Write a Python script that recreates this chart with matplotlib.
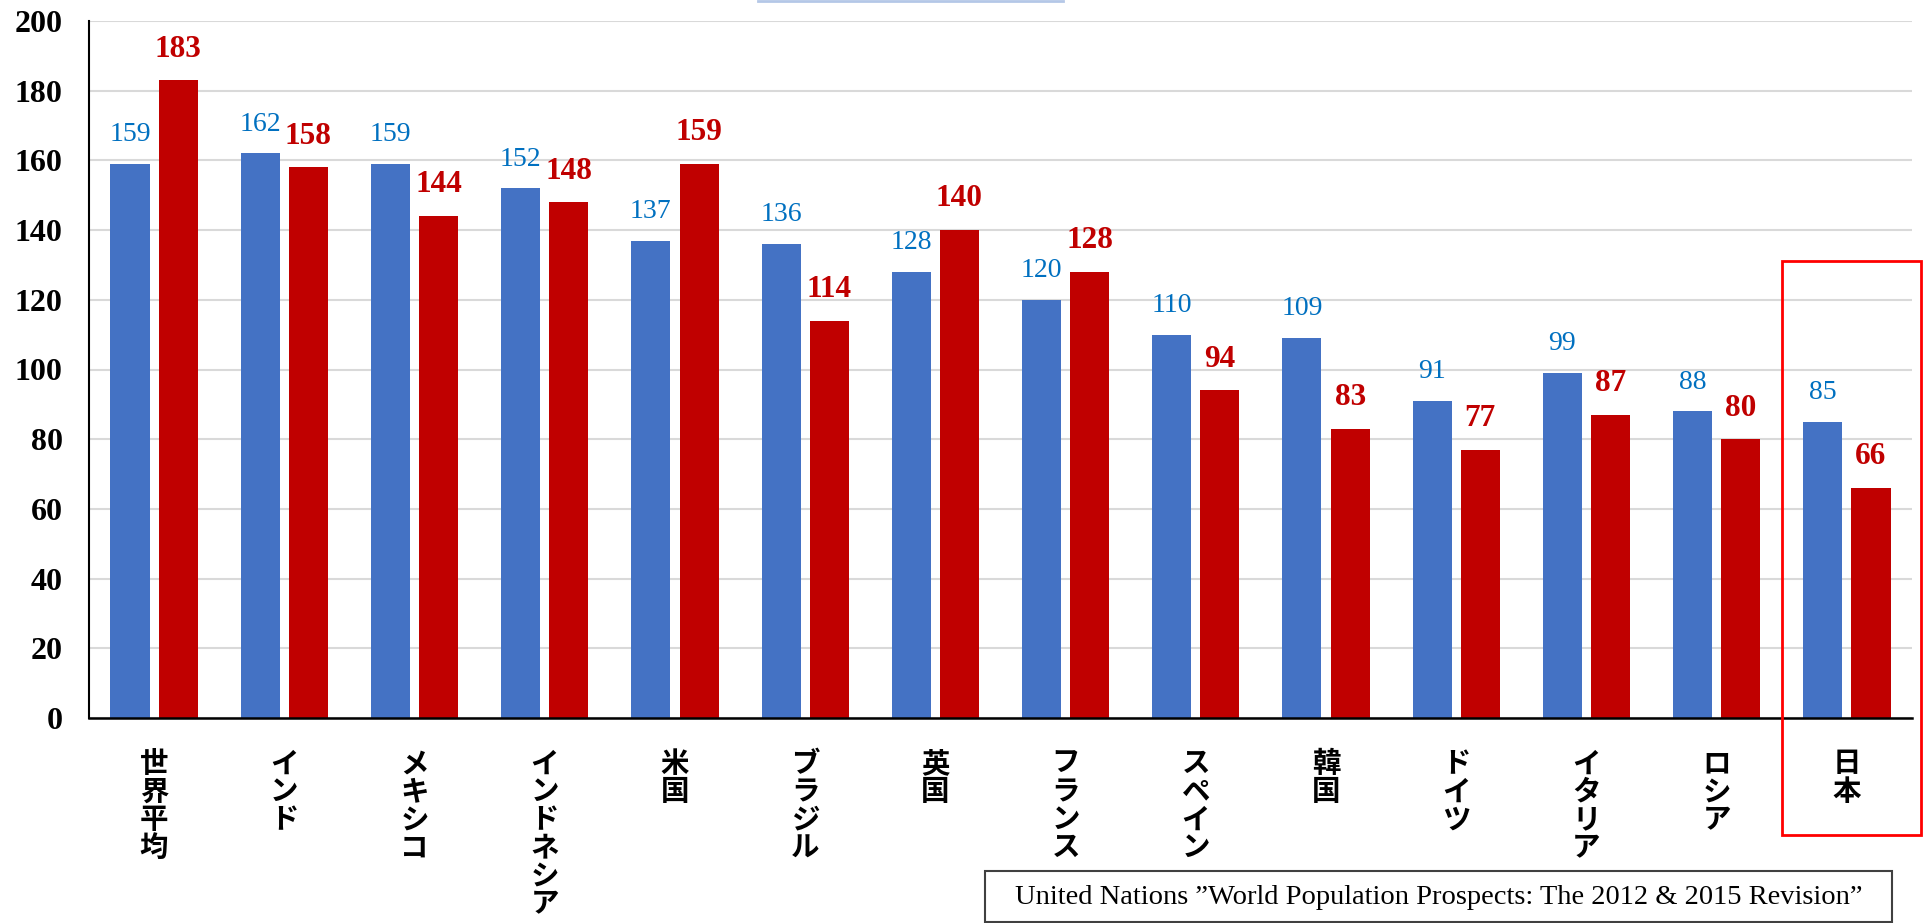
import numpy as np
import matplotlib.pyplot as plt
from matplotlib.patches import Rectangle
from matplotlib.lines import Line2D

countries = ["世界平均", "インド", "メキシコ", "インドネシア", "米国", "ブラジル", "英国",
             "フランス", "スペイン", "韓国", "ドイツ", "イタリア", "ロシア", "日本"]
blue_vals = [159, 162, 159, 152, 137, 136, 128, 120, 110, 109, 91, 99, 88, 85]
red_vals = [183, 158, 144, 148, 159, 114, 140, 128, 94, 83, 77, 87, 80, 66]
yticks = [0, 20, 40, 60, 80, 100, 120, 140, 160, 180, 200]
source = "United Nations \u201dWorld Population Prospects: The 2012 & 2015 Revision\u201d"

blue = "#4472C4"
red = "#C00000"
serif = ["Liberation Serif", "DejaVu Serif"]
jp = ["Noto Sans CJK JP", "DejaVu Sans"]

fig = plt.figure(figsize=(19.23, 9.23), dpi=100)
ax = fig.add_axes([89/1923, 1 - 718/923, (1912 - 89)/1923, (718 - 21)/923])

x = np.arange(len(countries))
w = 0.30
off = 0.185
ax.bar(x - off, blue_vals, w, color=blue, zorder=2)
ax.bar(x + off, red_vals, w, color=red, zorder=2)

for i in range(len(x)):
    ax.annotate(str(blue_vals[i]), (x[i] - off, blue_vals[i]), xytext=(0, 12),
                textcoords="offset points", ha="center", va="bottom",
                color="#0070C0", fontsize=20, family=serif)
    ax.annotate(str(red_vals[i]), (x[i] + off, red_vals[i]), xytext=(0, 12),
                textcoords="offset points", ha="center", va="bottom",
                color=red, fontsize=22.5, fontweight="bold", family=serif)

ax.set_xlim(-0.5, len(x) - 0.5)
ax.set_ylim(0, 200)
ax.set_yticks(yticks)
ax.set_yticklabels([str(v) for v in yticks], family=serif, fontsize=23, fontweight="bold")
ax.tick_params(axis="y", length=0, pad=19)
ax.tick_params(axis="x", length=0)
ax.set_xticks([])
ax.yaxis.grid(True, color="#D9D9D9", linewidth=1.5, zorder=0)
ax.set_axisbelow(True)
for s in ["top", "right"]:
    ax.spines[s].set_visible(False)
ax.spines["left"].set_linewidth(1.5)
ax.spines["bottom"].set_linewidth(1.8)

# vertical (stacked) category labels
for i, name in enumerate(countries):
    ax.text(x[i], -9.3, "\n".join(name), ha="center", va="top", fontsize=20.5,
            fontweight="bold", family=jp, linespacing=1.0, clip_on=False)

# red highlight box around Japan
fig.add_artist(Rectangle((1782/1923, 1 - 835/923), (1921 - 1782)/1923, (835 - 261)/923,
                         transform=fig.transFigure, fill=False, edgecolor="#FF0000",
                         linewidth=2))

# source box
fig.add_artist(Rectangle((985/1923, 1 - 922/923), (1892 - 985)/1923, (922 - 871)/923,
                         transform=fig.transFigure, fill=False, edgecolor="#404040",
                         linewidth=1.5))
fig.text((985 + 1892)/2/1923, 1 - 897/923, source, ha="center", va="center",
         fontsize=20.5, family=serif)

# remnant line at the top
fig.add_artist(Line2D([758/1923, 1063/1923], [1 - 1/923, 1 - 1/923],
                      transform=fig.transFigure, color="#B4C7E7", linewidth=2))

fig.savefig("out.png", dpi=100)
